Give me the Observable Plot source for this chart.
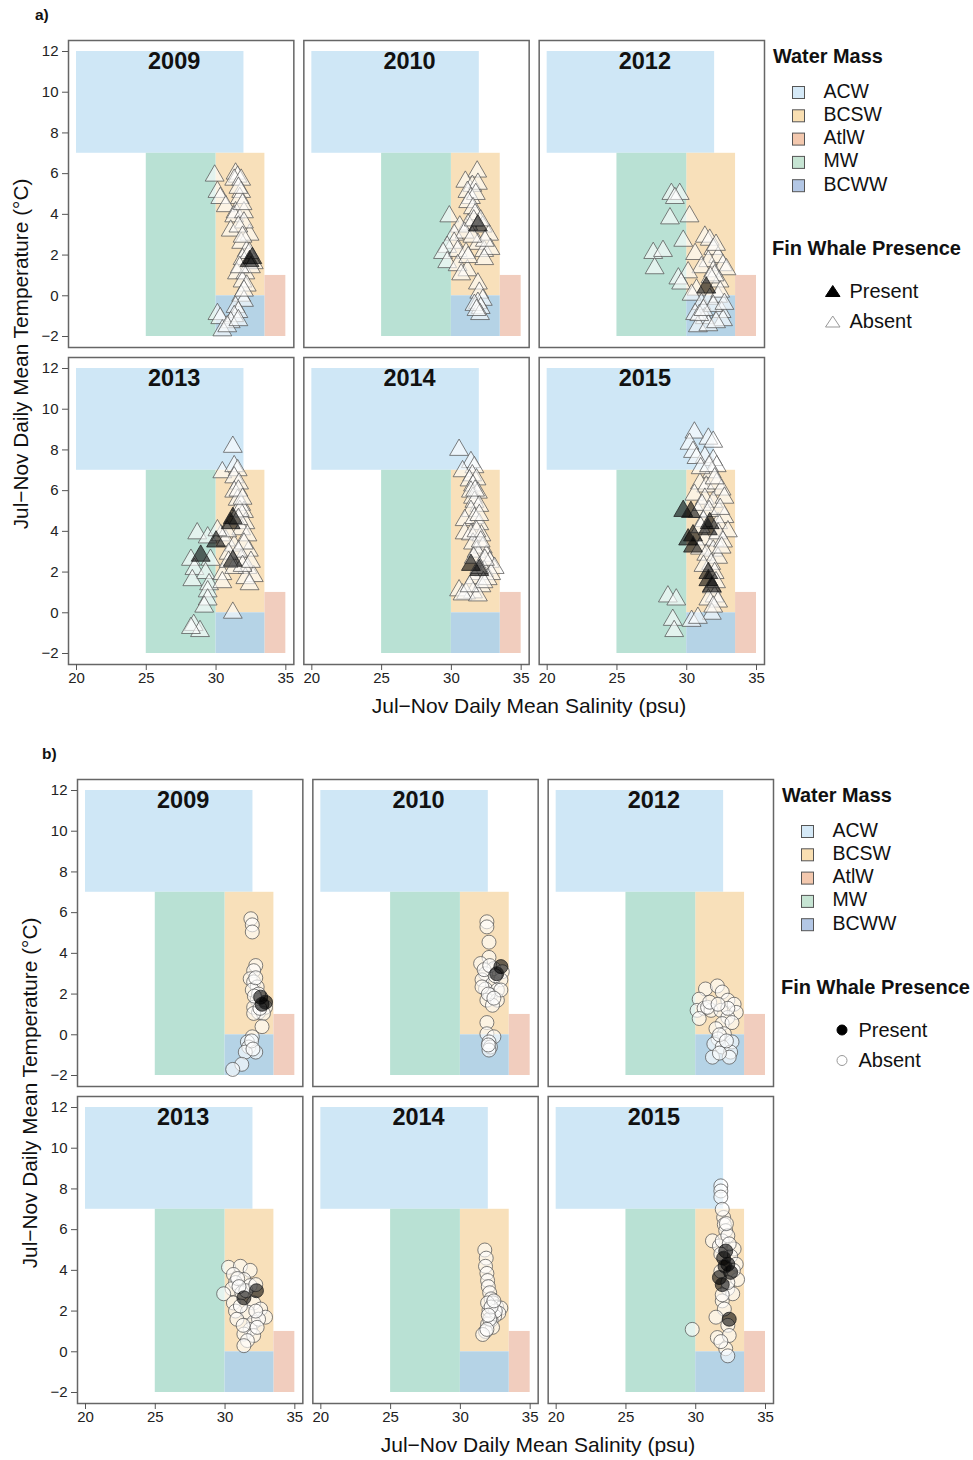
<!DOCTYPE html>
<html>
<head>
<meta charset="utf-8">
<script src="https://cdn.jsdelivr.net/npm/d3@7"></script>
<script src="https://cdn.jsdelivr.net/npm/@observablehq/plot@0.6"></script>
<style>
  body { margin: 0; background: #fff; }
  #page { position: relative; width: 973px; height: 1460px; font-family: "Liberation Sans", Arial, sans-serif; }
  #page > svg { position: absolute; left: 0; }
  #overlay { top: 0; pointer-events: none; }
</style>
</head>
<body>
<div id="page"></div>
<script>
// Facet years and water-mass definitions (salinity psu, temperature °C)
const years = [2009, 2010, 2012, 2013, 2014, 2015];
const massNames = ["ACW", "BCSW", "AtlW", "MW", "BCWW"];
const massSalinity = [[20, 32], [30, 33.5], [33.5, 35], [25, 30], [30, 33.5]];
const massTemperature = [[7, 12], [0, 7], [-2, 1], [-2, 7], [-2, 0]];
const massFill = ["#cfe7f6", "#f8e0ba", "#f1cdbe", "#b9e1d4", "#b5d3e6"];
const swatchFill = ["#d5e9f7", "#f9dfb2", "#f3c8ae", "#c6e4d3", "#b3c7e5"];
const presenceLabels = ["Present", "Absent"];
const salinityTicks = [20, 25, 30, 35];
const temperatureTicks = [-2, 0, 2, 4, 6, 8, 10, 12];

// Panel a: [salinity, temperature, fin whale present (1) / absent (0)]
const a2009 = [[29.9,5.9,0],[31.4,6.0,0],[31.55,5.85,0],[31.3,5.7,0],[31.8,5.7,0],[30.1,5.1,0],[30.3,4.8,0],[30.7,4.4,0],[31.8,5.1,0],[31.7,4.8,0],[31.4,4.1,0],[31.3,3.9,0],[32.0,4.1,0],[31.05,3.2,0],[32.4,3.0,0],[32.0,3.6,0],[31.8,2.6,0],[32.2,2.2,0],[31.9,1.8,0],[32.7,1.6,0],[31.5,1.1,0],[32.1,1.1,0],[31.9,0.7,0],[32.2,0.5,0],[31.8,0.0,0],[32.0,-0.25,0],[31.4,-0.55,0],[31.6,-0.8,0],[30.1,-0.9,0],[30.3,-1.1,0],[31.3,-1.0,0],[31.05,-1.3,0],[30.45,-1.7,0],[30.8,-1.5,0],[31.6,5.3,0],[31.9,4.5,0],[31.6,3.4,0],[31.9,2.9,0],[32.4,2.1,0],[32.5,1.4,0],[31.7,1.4,0],[32.0,0.25,0],[31.6,-1.2,0],[32.6,1.85,1],[32.4,1.7,1]];
const a2010 = [[31.85,6.1,0],[31.0,5.6,0],[31.5,5.4,0],[31.9,5.5,0],[31.15,5.1,0],[31.4,4.8,0],[31.75,5.0,0],[31.2,4.6,0],[31.55,4.3,0],[29.85,3.9,0],[31.7,4.0,0],[32.25,3.4,0],[31.2,3.5,0],[30.6,3.4,0],[30.2,3.0,0],[30.95,3.1,0],[32.7,3.0,0],[31.9,2.55,0],[30.2,2.6,0],[29.7,2.4,0],[29.4,2.1,0],[30.45,2.2,0],[31.05,2.1,0],[32.35,2.2,0],[32.8,2.3,0],[32.35,1.8,0],[29.7,1.65,0],[30.45,1.5,0],[31.15,1.25,0],[30.7,1.05,0],[31.9,0.6,0],[32.0,0.15,0],[32.25,-0.2,0],[31.9,-0.35,0],[32.1,-0.6,0],[31.65,-0.45,0],[31.6,3.7,0],[32.1,3.7,0],[32.4,2.7,0],[31.5,2.9,0],[31.2,1.9,0],[32.05,-0.9,0],[31.8,-0.7,0],[31.9,3.45,1]];
const a2012 = [[28.9,5.0,0],[29.5,5.0,0],[29.15,4.8,0],[28.8,3.8,0],[30.2,3.9,0],[29.75,2.7,0],[27.6,2.1,0],[28.3,2.2,0],[27.7,1.35,0],[31.3,2.9,0],[31.65,2.75,0],[31.9,2.3,0],[30.6,2.05,0],[32.25,1.9,0],[31.55,1.7,0],[31.05,1.4,0],[30.1,1.15,0],[29.4,0.85,0],[29.6,0.6,0],[32.6,1.5,0],[32.85,1.3,0],[31.9,1.2,0],[32.35,0.7,0],[30.7,0.3,0],[30.35,0.05,0],[31.05,-0.4,0],[31.65,-0.15,0],[32.25,-0.05,0],[30.6,-0.9,0],[31.3,-1.1,0],[32.5,-0.8,0],[32.6,-1.2,0],[30.8,-1.5,0],[31.55,-1.45,0],[30.9,-0.95,0],[32.1,2.5,0],[32.0,1.0,0],[31.7,0.9,0],[32.4,0.2,0],[31.9,-0.5,0],[32.1,-1.3,0],[31.2,-0.7,0],[32.7,-0.4,0],[31.4,0.4,1]];
const a2013 = [[31.2,8.15,0],[30.45,6.9,0],[31.3,7.2,0],[31.55,7.0,0],[31.3,6.65,0],[31.65,6.35,0],[31.3,5.95,0],[31.55,5.55,0],[31.8,5.3,0],[32.0,4.95,0],[32.1,4.4,0],[31.8,4.1,0],[32.25,3.8,0],[28.65,3.9,0],[29.4,3.7,0],[30.35,3.8,0],[30.7,3.55,0],[31.3,3.3,0],[32.35,3.05,0],[28.2,2.6,0],[29.6,2.6,0],[31.8,2.6,0],[28.45,2.15,0],[29.25,1.95,0],[30.45,1.9,0],[32.25,2.2,0],[32.7,1.8,0],[32.1,1.7,0],[28.3,1.6,0],[29.5,1.4,0],[30.45,1.5,0],[32.4,1.4,0],[29.4,1.05,0],[29.4,0.65,0],[29.15,0.3,0],[31.2,0.0,0],[28.4,-0.6,0],[28.85,-0.9,0],[28.2,-0.75,0],[30.8,4.0,0],[30.1,4.05,0],[31.3,2.2,0],[31.7,5.0,0],[31.6,6.0,0],[31.9,5.6,0],[31.6,4.6,0],[32.0,3.4,0],[31.6,3.0,0],[30.9,2.9,0],[31.9,2.3,0],[30.9,2.5,0],[32.5,2.5,0],[31.2,4.65,1],[31.05,4.4,1],[30.0,3.5,1],[28.9,2.8,1],[31.2,2.55,1]];
const a2014 = [[30.55,8.0,0],[31.4,7.4,0],[31.65,7.15,0],[30.8,6.95,0],[31.5,6.75,0],[31.3,6.5,0],[31.8,6.55,0],[31.55,6.25,0],[31.4,5.95,0],[31.9,5.9,0],[31.55,5.65,0],[31.65,5.45,0],[32.0,5.25,0],[31.4,5.0,0],[30.95,4.55,0],[31.65,4.65,0],[32.0,4.35,0],[30.95,3.9,0],[31.4,3.85,0],[32.15,3.8,0],[31.55,3.4,0],[32.25,3.2,0],[31.8,3.0,0],[32.5,2.8,0],[32.75,2.5,0],[33.1,2.2,0],[32.35,2.05,0],[31.9,1.9,0],[32.85,1.9,0],[31.65,1.7,0],[30.55,1.1,0],[31.55,1.0,0],[32.15,1.3,0],[31.05,0.95,0],[30.8,0.9,0],[32.6,1.65,0],[31.9,0.85,0],[31.7,6.0,0],[32.0,4.8,0],[31.8,4.0,0],[32.1,3.5,0],[32.4,2.6,0],[31.6,2.7,0],[32.0,2.2,0],[32.3,1.5,0],[31.3,1.3,0],[31.4,2.35,1],[32.0,2.1,1]];
const a2015 = [[30.55,8.85,0],[30.2,8.3,0],[31.55,8.55,0],[31.9,8.4,0],[30.45,7.9,0],[31.3,7.65,0],[30.7,7.6,0],[31.9,7.5,0],[32.15,7.2,0],[31.8,6.9,0],[30.95,6.35,0],[31.4,6.2,0],[32.15,6.35,0],[32.5,6.05,0],[30.55,5.8,0],[31.3,5.6,0],[31.9,5.45,0],[32.7,5.65,0],[30.8,4.95,0],[32.7,4.7,0],[32.25,4.4,0],[32.95,4.0,0],[31.3,3.6,0],[32.0,3.55,0],[30.95,3.15,0],[31.9,3.05,0],[31.4,2.85,0],[32.25,2.7,0],[31.75,2.4,0],[32.0,1.95,0],[31.8,1.25,0],[32.0,0.8,0],[31.55,0.65,0],[32.25,0.55,0],[28.65,0.8,0],[29.25,0.65,0],[31.8,-0.05,0],[30.35,-0.4,0],[30.8,-0.25,0],[29.0,-0.35,0],[29.1,-0.9,0],[32.25,3.9,0],[32.6,3.5,0],[31.0,7.1,0],[31.6,7.2,0],[32.0,6.6,0],[31.1,5.3,0],[31.6,5.0,0],[32.4,5.1,0],[31.2,4.5,0],[31.0,4.2,0],[32.5,3.2,0],[31.2,2.3,0],[32.1,1.5,0],[31.9,0.3,0],[29.75,5.0,1],[30.3,4.95,1],[31.65,4.4,1],[30.45,3.8,1],[30.1,3.6,1],[30.45,3.25,1],[31.55,1.95,1],[31.55,1.6,1],[31.8,1.3,1],[31.5,4.1,1]];

// Panel b: [salinity, temperature, fin whale present (1) / absent (0)]
const b2009 = [[31.85,5.7,0],[31.95,5.4,0],[31.95,5.05,0],[32.2,3.4,0],[32.05,3.15,0],[31.8,2.75,0],[32.05,2.6,0],[32.3,2.35,0],[31.95,2.2,0],[32.3,1.7,0],[32.9,1.35,0],[32.05,1.35,0],[32.4,1.1,0],[32.75,1.05,0],[32.05,1.05,0],[32.65,0.4,0],[31.95,-0.1,0],[31.6,-0.35,0],[31.7,-0.6,0],[32.2,-0.85,0],[31.45,-0.85,0],[31.2,-1.45,0],[30.55,-1.7,0],[32.4,2.0,0],[32.1,1.9,0],[32.5,1.3,0],[32.2,2.8,0],[31.9,-0.3,0],[32.0,-0.7,0],[32.55,1.85,1],[32.65,1.5,1],[32.9,1.6,1]];
const b2010 = [[31.9,5.55,0],[31.9,5.3,0],[32.05,4.55,0],[32.05,3.8,0],[31.45,3.5,0],[32.4,3.25,0],[33.0,3.1,0],[31.8,3.0,0],[31.55,2.7,0],[32.3,2.5,0],[32.9,2.7,0],[31.8,2.25,0],[32.65,2.2,0],[32.15,1.95,0],[31.9,1.7,0],[32.65,1.7,0],[32.3,1.45,0],[31.9,0.6,0],[31.9,0.05,0],[32.4,-0.1,0],[32.05,-0.35,0],[32.15,-0.6,0],[32.05,-0.75,0],[31.55,2.35,0],[32.9,2.2,0],[31.7,3.2,0],[32.1,3.4,0],[32.5,2.9,0],[32.0,2.0,0],[32.4,1.8,0],[32.0,-0.5,0],[32.9,3.35,1],[32.6,3.0,1]];
const b2012 = [[30.7,2.25,0],[31.55,2.4,0],[31.9,2.1,0],[30.25,1.75,0],[32.3,1.7,0],[32.75,1.5,0],[30.1,1.2,0],[30.6,1.3,0],[31.1,1.2,0],[31.8,1.2,0],[32.9,1.1,0],[30.25,0.8,0],[32.3,0.85,0],[31.9,0.55,0],[31.45,0.3,0],[32.05,0.05,0],[31.6,-0.2,0],[31.3,-0.45,0],[32.6,-0.35,0],[31.9,-0.6,0],[31.2,-1.1,0],[32.5,-0.85,0],[32.4,-1.1,0],[30.85,1.35,0],[32.3,1.3,0],[31.0,1.6,0],[31.6,1.5,0],[32.6,0.6,0],[31.7,0.0,0],[32.2,-0.3,0],[31.7,-0.9,0]];
const b2013 = [[30.25,4.15,0],[31.1,4.2,0],[31.8,4.0,0],[30.6,3.8,0],[31.35,3.55,0],[30.75,3.4,0],[31.8,3.25,0],[30.5,3.1,0],[29.9,2.85,0],[31.2,2.9,0],[30.6,2.4,0],[32.05,2.4,0],[32.55,2.1,0],[30.75,2.0,0],[31.6,1.95,0],[32.9,1.7,0],[30.85,1.6,0],[32.05,1.45,0],[31.8,1.1,0],[31.35,0.87,0],[32.05,0.8,0],[31.6,0.55,0],[31.35,0.3,0],[32.4,1.6,0],[31.1,2.25,0],[30.9,3.6,0],[31.5,3.0,0],[32.2,2.0,0],[31.3,1.3,0],[32.3,1.2,0],[31.0,3.2,0],[32.2,3.3,0],[32.25,3.0,1],[31.35,2.65,1]];
const b2014 = [[31.75,5.0,0],[31.85,4.6,0],[31.8,4.2,0],[31.9,3.85,0],[31.95,3.5,0],[32.0,3.2,0],[32.1,2.9,0],[32.2,2.6,0],[32.35,2.4,0],[32.6,2.2,0],[32.9,2.15,0],[32.75,1.9,0],[32.45,1.75,0],[32.2,1.55,0],[31.95,1.35,0],[32.3,1.2,0],[31.8,1.0,0],[31.6,0.85,0],[32.05,2.05,0],[31.95,2.4,0],[32.5,2.0,0],[32.1,1.6,0],[32.2,2.2,0],[32.4,2.5,0],[32.0,1.8,0],[31.9,1.1,0]];
const b2015 = [[31.8,8.15,0],[31.8,7.9,0],[31.8,7.6,0],[32.0,6.6,0],[32.05,6.25,0],[32.15,5.95,0],[31.2,5.45,0],[31.7,5.2,0],[32.75,5.05,0],[32.5,4.7,0],[32.9,4.3,0],[33.0,3.55,0],[32.3,3.1,0],[32.65,2.85,0],[31.9,2.5,0],[32.05,2.1,0],[31.45,1.7,0],[32.3,1.3,0],[29.75,1.1,0],[31.55,0.7,0],[32.4,0.8,0],[32.15,0.15,0],[32.3,-0.2,0],[31.9,5.45,0],[32.3,5.7,0],[31.8,3.95,0],[31.9,7.0,0],[32.2,6.3,0],[32.4,5.3,0],[31.8,4.8,0],[32.7,4.0,0],[32.3,3.4,0],[31.9,2.8,0],[31.8,0.5,0],[32.15,4.95,1],[32.3,4.3,1],[32.5,3.9,1],[31.7,3.65,1],[31.9,3.3,1],[32.4,1.6,1],[32.0,4.6,1],[32.1,4.2,1]];

const FONT = '"Liberation Sans", Arial, sans-serif';
const page = document.getElementById("page");

const masses = massNames.map((name, i) => ({
  name,
  x1: massSalinity[i][0], x2: massSalinity[i][1],
  y1: massTemperature[i][0], y2: massTemperature[i][1],
  fill: massFill[i]
}));

function facetChart(series, symbol, r, left) {
  const pts = series.flatMap((list, i) =>
    list.map(([s, t, p]) => ({s, t, p, col: i % 3, row: Math.floor(i / 3)})));
  const tags = years.map((year, i) => ({year, col: i % 3, row: Math.floor(i / 3)}));
  const dotBase = {x: "s", y: "t", fx: "col", fy: "row", symbol, r, strokeWidth: 1};
  return Plot.plot({
    width: 973,
    height: 690,
    marginLeft: left,
    marginRight: 973 - left - 696,
    marginTop: 40,
    marginBottom: 26,
    style: {fontFamily: FONT, fontSize: "15px", color: "#222", background: "transparent"},
    fx: {domain: [0, 1, 2], paddingInner: 30 / 706, paddingOuter: 0, round: false, axis: null},
    fy: {domain: [0, 1], paddingInner: 20 / 634, paddingOuter: 0, round: false, axis: null},
    x: {domain: [20, 35], insetLeft: 8, insetRight: 8},
    y: {domain: [-2, 12], insetTop: 11, insetBottom: 11},
    color: {type: "identity"},
    marks: [
      Plot.rect(masses, {x1: "x1", x2: "x2", y1: "y1", y2: "y2", fill: "fill"}),
      Plot.dot(pts.filter(d => !d.p), {...dotBase, fill: "#ffffff", fillOpacity: 0.6, stroke: "#555", strokeOpacity: 0.75}),
      Plot.dot(pts.filter(d => d.p), {...dotBase, fill: "#000000", fillOpacity: 0.58, stroke: "#222", strokeOpacity: 0.8}),
      Plot.text(tags, {fx: "col", fy: "row", x: () => 27, y: () => 11.5, text: d => String(d.year),
        fontWeight: "bold", fontSize: 23.5, fill: "#111"}),
      Plot.frame({stroke: "#666", strokeWidth: 1.5}),
      Plot.axisX({ticks: salinityTicks, tickSize: 6, tickPadding: 2, label: null, fontSize: 15, stroke: "#555"}),
      Plot.axisY({ticks: temperatureTicks, tickSize: 6, tickPadding: 4, label: null, fontSize: 15, stroke: "#555"})
    ]
  });
}

const chartA = facetChart([a2009, a2010, a2012, a2013, a2014, a2015], "triangle", 7, 68);
chartA.style.top = "0px";
page.appendChild(chartA);
const chartB = facetChart([b2009, b2010, b2012, b2013, b2014, b2015], "circle", 7, 77);
chartB.style.top = "739px";
page.appendChild(chartB);

// Titles, panel tags and legends
const overlay = d3.select(page).append("svg")
  .attr("id", "overlay").attr("width", 973).attr("height", 1460)
  .style("font-family", FONT);

function decorate(tag, tagX, dx, dy, shape) {
  const g = overlay.append("g").attr("transform", `translate(${dx},${dy})`).attr("fill", "#111");
  g.append("text").attr("x", tagX).attr("y", 20).attr("font-weight", "bold").attr("font-size", 15.5).text(tag);
  g.append("text").attr("x", 529).attr("y", 713).attr("text-anchor", "middle").attr("font-size", 21)
    .text("Jul\u2212Nov Daily Mean Salinity (psu)");
  g.append("text").attr("transform", "translate(21,354) rotate(-90)").attr("dy", "0.35em")
    .attr("text-anchor", "middle").attr("font-size", 20.8)
    .text("Jul\u2212Nov Daily Mean Temperature (\u00B0C)");

  g.append("text").attr("x", 773).attr("y", 63.3).attr("font-weight", "bold").attr("font-size", 19.9)
    .text("Water Mass");
  massNames.forEach((name, i) => {
    g.append("rect").attr("x", 792.5).attr("y", 86.5 + i * 23.3).attr("width", 12).attr("height", 12)
      .attr("fill", swatchFill[i]).attr("stroke", "#555").attr("stroke-width", 1);
    g.append("text").attr("x", 823.5).attr("y", 97.5 + i * 23.3).attr("font-size", 19.5).text(name);
  });
  g.append("text").attr("x", 772).attr("y", 254.5).attr("font-weight", "bold").attr("font-size", 20)
    .text("Fin Whale Presence");
  presenceLabels.forEach((label, i) => {
    const cy = 291 + i * 30.5;
    if (shape === "triangle") {
      g.append("path").attr("d", `M825.5,${cy + 5.5}L840,${cy + 5.5}L832.75,${cy - 5.5}Z`)
        .attr("fill", i === 0 ? "#000" : "#fff").attr("stroke", i === 0 ? "#000" : "#999").attr("stroke-width", 1);
    } else {
      g.append("circle").attr("cx", 833).attr("cy", cy).attr("r", 5)
        .attr("fill", i === 0 ? "#000" : "#fff").attr("stroke", i === 0 ? "#000" : "#999").attr("stroke-width", 1);
    }
    g.append("text").attr("x", 849.5).attr("y", cy + 6.5).attr("font-size", 20).text(label);
  });
}

decorate("a)", 35, 0, 0, "triangle");
decorate("b)", 33, 9, 739, "circle");
</script>
</body>
</html>
